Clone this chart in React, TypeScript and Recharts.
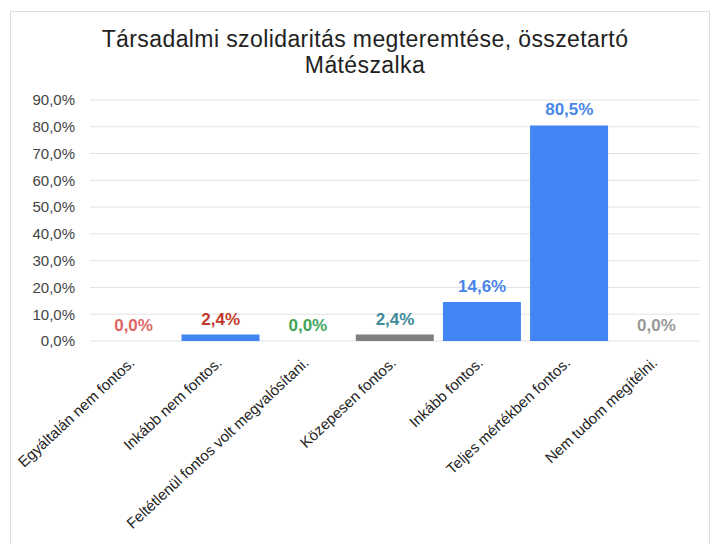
import { ComposedChart, Bar, Line, XAxis, YAxis, CartesianGrid, Cell, LabelList } from 'recharts'

const categories = [
  'Egyáltalán nem fontos.',
  'Inkább nem fontos.',
  'Feltétlenül fontos volt megvalósítani.',
  'Közepesen fontos.',
  'Inkább fontos.',
  'Teljes mértékben fontos.',
  'Nem tudom megítélni.',
]
const values = [0.0, 2.4, 0.0, 2.4, 14.6, 80.5, 0.0]
const barColors = ['#4285f4', '#4285f4', '#4285f4', '#7f7f7f', '#4285f4', '#4285f4', '#4285f4']
const labelColors = ['#e06666', '#c0392b', '#3fa55a', '#3d8a9a', '#4a86e8', '#4a86e8', '#999999']
const yTicks = [0, 10, 20, 30, 40, 50, 60, 70, 80, 90]

const data = categories.map((name, i) => ({ name, value: values[i] }))

const fmt = (v: number) => `${v.toFixed(1).replace('.', ',')}%`
const FONT = '"Liberation Sans", Arial, sans-serif'

function XTick({ x, y, payload }: any) {
  return (
    <g transform={`translate(${x + 2},${y + 15})`}>
      <text textAnchor="end" transform="rotate(-43)" fontSize={15} fill="#222" fontFamily={FONT}>
        {payload.value}
      </text>
    </g>
  )
}

// label drawn from the point of an invisible line so that zero-height bars get one too
function ValueLabel({ x, y, value, index }: any) {
  return (
    <text
      x={x}
      y={y - 10}
      textAnchor="middle"
      fontSize={17}
      fontWeight="bold"
      fill={labelColors[index]}
      fontFamily={FONT}
    >
      {fmt(value)}
    </text>
  )
}

export default function App() {
  return (
    <div style={{ position: 'absolute', left: 0, top: 0, width: 713, height: 544, background: '#fff', overflow: 'hidden' }}>
      <div style={{ position: 'absolute', left: 10, top: 11, width: 700, height: 560, border: '1px solid #dcdcdc', boxSizing: 'border-box' }} />
      <div
        style={{
          position: 'absolute', left: 0, top: 26, width: 730, textAlign: 'center',
          fontFamily: FONT, fontSize: 23, lineHeight: '26px', letterSpacing: 0.4, color: '#222',
        }}
      >
        Társadalmi szolidaritás megteremtése, összetartó
        <br />
        Mátészalka
      </div>
      <div style={{ position: 'absolute', left: 0, top: 0 }}>
        <ComposedChart width={713} height={544} data={data} margin={{ top: 100, right: 13, bottom: 0, left: 0 }} barCategoryGap="5%">
          <CartesianGrid vertical={false} stroke="#e3e3e3" />
          <XAxis dataKey="name" axisLine={false} tickLine={false} interval={0} height={203} tick={<XTick />} />
          <YAxis
            domain={[0, 90]}
            ticks={yTicks}
            width={90}
            axisLine={false}
            tickLine={false}
            tickSize={0}
            tickMargin={15}
            tickFormatter={fmt}
            tick={{ fontSize: 15, fill: '#444', fontFamily: FONT }}
          />
          <Bar dataKey="value" isAnimationActive={false}>
            {data.map((d, i) => (
              <Cell key={i} fill={barColors[i]} />
            ))}
          </Bar>
          <Line dataKey="value" stroke="none" dot={false} activeDot={false} isAnimationActive={false}>
            <LabelList dataKey="value" content={<ValueLabel />} />
          </Line>
        </ComposedChart>
      </div>
    </div>
  )
}
